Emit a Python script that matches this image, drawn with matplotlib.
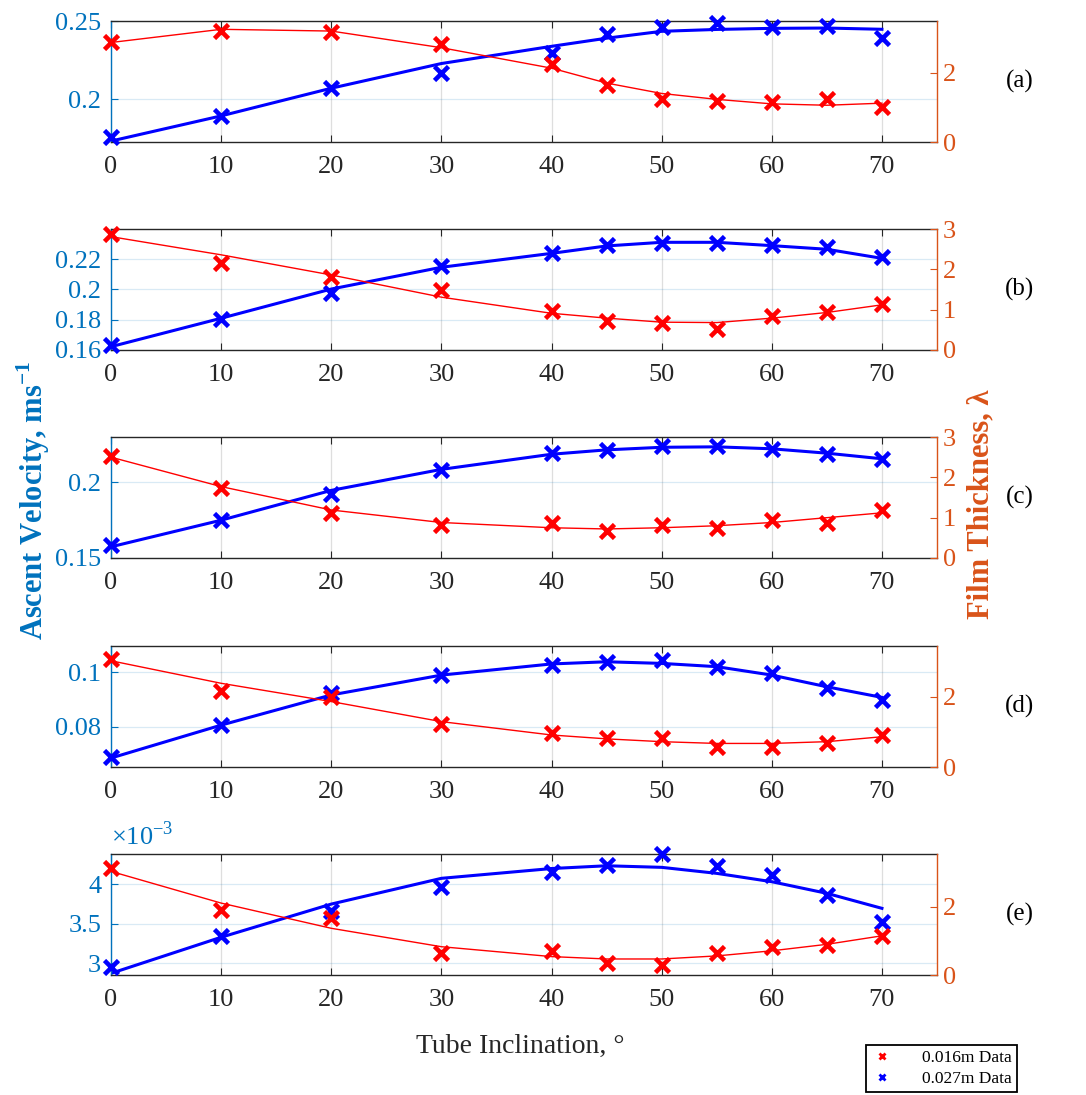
import matplotlib
matplotlib.use('Agg')
import matplotlib.pyplot as plt
from matplotlib.lines import Line2D
from matplotlib.ticker import FuncFormatter

plt.rcParams['font.family'] = ['Liberation Serif', 'DejaVu Serif']
plt.rcParams['mathtext.fontset'] = 'custom'
plt.rcParams['mathtext.rm'] = 'Liberation Serif'
plt.rcParams['mathtext.bf'] = 'Liberation Serif:bold'

# --- data ---
inclination = [0, 10, 20, 30, 40, 45, 50, 55, 60, 65, 70]

# (a)
vel_a = [0.1755, 0.1893, 0.2072, 0.2168, 0.2296, 0.2419, 0.2461, 0.2489, 0.2461, 0.2468, 0.2393]
vel_fit_a = [0.1732, 0.1893, 0.2070, 0.2228, 0.2338, 0.2390, 0.2434, 0.2446, 0.2453, 0.2455, 0.2447]
film_a = [2.87, 3.20, 3.18, 2.82, 2.25, 1.64, 1.24, 1.19, 1.14, 1.24, 1.02]
film_fit_a = [2.87, 3.25, 3.20, 2.72, 2.13, 1.70, 1.40, 1.23, 1.10, 1.06, 1.12]

# (b)
vel_b = [0.1633, 0.1805, 0.1975, 0.2155, 0.2239, 0.2294, 0.2305, 0.2305, 0.2294, 0.2283, 0.2217]
vel_fit_b = [0.1622, 0.1810, 0.2003, 0.2147, 0.2239, 0.2288, 0.2312, 0.2312, 0.2290, 0.2266, 0.2206]
film_b = [2.88, 2.16, 1.80, 1.49, 0.97, 0.72, 0.66, 0.51, 0.85, 0.95, 1.13]
film_fit_b = [2.81, 2.36, 1.86, 1.31, 0.91, 0.79, 0.69, 0.68, 0.79, 0.93, 1.12]

# (c)
vel_c = [0.1584, 0.1750, 0.1926, 0.2079, 0.2193, 0.2211, 0.2243, 0.2243, 0.2222, 0.2189, 0.2156]
vel_fit_c = [0.1574, 0.1750, 0.1947, 0.2086, 0.2186, 0.2215, 0.2232, 0.2235, 0.2222, 0.2193, 0.2156]
film_c = [2.54, 1.73, 1.12, 0.83, 0.86, 0.68, 0.82, 0.75, 0.94, 0.88, 1.19]
film_fit_c = [2.50, 1.77, 1.19, 0.88, 0.75, 0.72, 0.75, 0.80, 0.88, 1.00, 1.12]

# (d)
vel_d = [0.0690, 0.0806, 0.0923, 0.0990, 0.1027, 0.1039, 0.1045, 0.1021, 0.0996, 0.0941, 0.0898]
vel_fit_d = [0.0685, 0.0806, 0.0917, 0.0990, 0.1031, 0.1039, 0.1033, 0.1021, 0.0990, 0.0947, 0.0908]
film_d = [3.07, 2.17, 2.00, 1.21, 0.96, 0.82, 0.83, 0.58, 0.56, 0.69, 0.91]
film_fit_d = [3.02, 2.38, 1.86, 1.29, 0.91, 0.80, 0.72, 0.67, 0.67, 0.72, 0.86]

# (e)
vel_e = [2.957e-3, 3.349e-3, 3.666e-3, 3.962e-3, 4.152e-3, 4.244e-3, 4.380e-3, 4.230e-3, 4.118e-3, 3.865e-3, 3.519e-3]
vel_fit_e = [2.873e-3, 3.330e-3, 3.750e-3, 4.076e-3, 4.200e-3, 4.235e-3, 4.215e-3, 4.139e-3, 4.033e-3, 3.886e-3, 3.696e-3]
film_e = [3.14, 1.91, 1.67, 0.66, 0.69, 0.36, 0.29, 0.64, 0.81, 0.88, 1.15]
film_fit_e = [3.04, 2.11, 1.37, 0.83, 0.54, 0.47, 0.47, 0.56, 0.71, 0.90, 1.15]

panel_names = ['(a)', '(b)', '(c)', '(d)', '(e)']
vel_ticks = [[0.2, 0.25], [0.16, 0.18, 0.2, 0.22], [0.15, 0.2], [0.08, 0.1], [3e-3, 3.5e-3, 4e-3]]
film_ticks = [[0, 2], [0, 1, 2, 3], [0, 1, 2, 3], [0, 2], [0, 2]]
x_ticks = [0, 10, 20, 30, 40, 50, 60, 70]

# --- styles / layout ---
BLUE_AX = (0, 0.447, 0.741)
ORANGE_AX = (0.85, 0.325, 0.098)
DARK = (0.15, 0.15, 0.15)
W, H = 1086, 1095
LEFT, RIGHT = 111, 937
tops = [21, 229, 437, 646, 854]
PH = 121
vel_lims = [(0.1726, 0.25), (0.16, 0.24), (0.15, 0.23), (0.0652, 0.1097), (2.852e-3, 4.384e-3)]
film_lims = [(0, 3.49), (0, 3), (0, 3), (0, 3.44), (0, 3.55)]

vel_all = [vel_a, vel_b, vel_c, vel_d, vel_e]
vel_fit_all = [vel_fit_a, vel_fit_b, vel_fit_c, vel_fit_d, vel_fit_e]
film_all = [film_a, film_b, film_c, film_d, film_e]
film_fit_all = [film_fit_a, film_fit_b, film_fit_c, film_fit_d, film_fit_e]

fig = plt.figure(figsize=(W / 100, H / 100), dpi=100)

for i in range(5):
    ax = fig.add_axes([LEFT / W, 1 - (tops[i] + PH) / H, (RIGHT - LEFT) / W, PH / H])
    ax.plot(inclination, vel_fit_all[i], color='blue', lw=2.2, zorder=2)
    ax.plot(inclination, vel_all[i], ls='none', marker='x', ms=9.5, mew=3.3,
            color='blue', clip_on=False, zorder=3)
    ax.set_xlim(0, 75)
    ax.set_ylim(*vel_lims[i])
    ax.set_xticks(x_ticks)
    ax.set_yticks(vel_ticks[i])
    if i == 4:
        ax.yaxis.set_major_formatter(FuncFormatter(lambda v, p: f'{v * 1e3:g}'))
        ax.text(0.0, 1.03, r'$\times10^{-3}$', transform=ax.transAxes, color=BLUE_AX,
                fontsize=19, ha='left', va='bottom')
    else:
        ax.yaxis.set_major_formatter(FuncFormatter(lambda v, p: f'{v:g}'))
    ax.xaxis.grid(True, color=DARK, alpha=0.15, lw=0.9)
    ax.yaxis.grid(True, color=BLUE_AX, alpha=0.15, lw=0.9)
    ax.set_axisbelow(True)
    ax.tick_params(axis='x', direction='in', top=True, length=5, width=0.8, colors=DARK,
                   labelsize=19, pad=10)
    ax.tick_params(axis='y', direction='in', length=5, width=0.8, colors=BLUE_AX,
                   labelsize=19, pad=7)
    for s in ['top', 'bottom']:
        ax.spines[s].set_color(DARK)
        ax.spines[s].set_linewidth(1.0)
    ax.spines['left'].set_color(BLUE_AX)
    ax.spines['left'].set_linewidth(1.0)
    ax.spines['right'].set_visible(False)

    ax2 = ax.twinx()
    ax2.plot(inclination, film_fit_all[i], color='red', lw=1.0, zorder=2)
    ax2.plot(inclination, film_all[i], ls='none', marker='x', ms=9.5, mew=3.3,
             color='red', clip_on=False, zorder=3)
    ax2.set_ylim(*film_lims[i])
    ax2.set_yticks(film_ticks[i])
    ax2.yaxis.set_major_formatter(FuncFormatter(lambda v, p: f'{v:g}'))
    ax2.tick_params(axis='y', direction='in', length=5, width=0.8, colors=ORANGE_AX,
                    labelsize=19, pad=4)
    for s in ['top', 'bottom', 'left']:
        ax2.spines[s].set_visible(False)
    ax2.spines['right'].set_color(ORANGE_AX)
    ax2.spines['right'].set_linewidth(1.0)

    ax2.text(1.10, 0.5, panel_names[i], transform=ax.transAxes, fontsize=18,
             color='black', ha='center', va='center')

fig.text(0.031, 0.543, r'Ascent Velocity, ms$^{\mathbf{-1}}$', rotation=90, fontsize=22,
         fontweight='bold', color=BLUE_AX, ha='center', va='center')
fig.text(0.903, 0.539, 'Film Thickness, λ', rotation=90, fontsize=22,
         fontweight='bold', color=ORANGE_AX, ha='center', va='center')
fig.text(0.479, 0.044, 'Tube Inclination, °', fontsize=20, color=DARK,
         ha='center', va='center')

handles = [Line2D([], [], ls='none', marker='x', color='red', ms=5, mew=2),
           Line2D([], [], ls='none', marker='x', color='blue', ms=5, mew=2)]
leg = fig.legend(handles, ['0.016m Data', '0.027m Data'], loc='upper left',
                 bbox_to_anchor=(866 / W, 1 - 1045 / H), borderaxespad=0, fontsize=12.5,
                 fancybox=False, framealpha=1, edgecolor='black', handlelength=1.2,
                 handletextpad=1.7, labelspacing=0.25, borderpad=0.3)
leg.get_frame().set_linewidth(1.3)

fig.savefig('out.png', dpi=100)
